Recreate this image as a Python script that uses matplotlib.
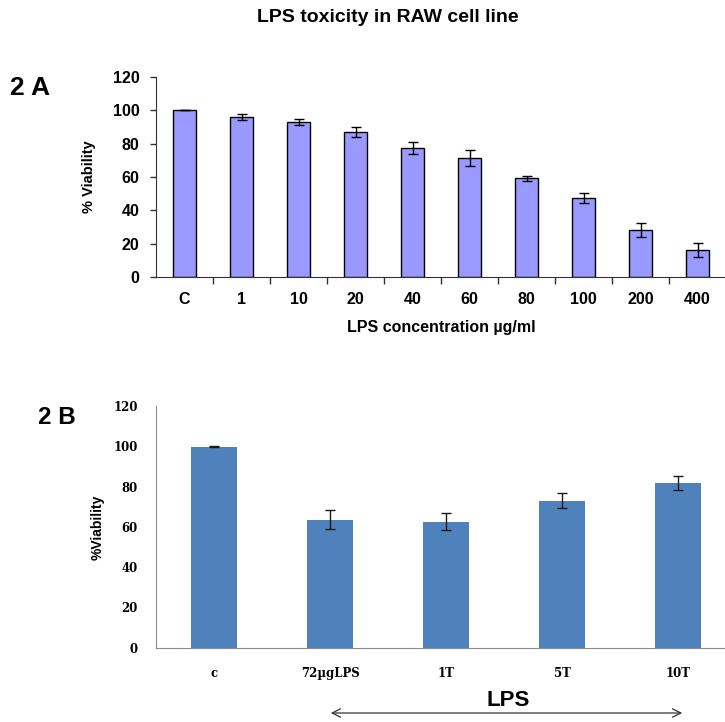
import numpy as np
import matplotlib
matplotlib.use("Agg")
import matplotlib.pyplot as plt
from matplotlib.ticker import FixedLocator

# Panel 2A data - LPS toxicity
lpsDoses   = ["C", "1", "10", "20", "40", "60", "80", "100", "200", "400"]
lpsViab    = [100, 96, 93.2, 87, 77.2, 71.2, 59.2, 47.4, 28, 16]
lpsErr     = [0, 2, 1.8, 3, 3.6, 4.8, 1.4, 2.8, 4.2, 4.2]

# Panel 2B data
treatLabels = ["c", "72\u00b5gLPS", "1T", "5T", "10T"]
treatViab   = [99.8, 63.6, 62.6, 73, 81.8]
treatErr    = [0.3, 4.8, 4.1, 3.7, 3.6]

yTicks = [0, 20, 40, 60, 80, 100, 120]

narrow = ["Liberation Sans", "DejaVu Sans"]
serif = ["DejaVu Serif"]

fig = plt.figure(figsize=(7.25, 7.22), dpi=100)

fig.text(388/725, 1 - 18/722, "LPS toxicity in RAW cell line", ha="center", va="center",
         fontsize=14, fontweight="bold", family=narrow)

##############################################################################
## 2A
axA = fig.add_axes([156/725, 1 - 277/722, 570/725, 200/722])
xA = np.arange(len(lpsDoses))
axA.bar(xA, lpsViab, width=0.42, color="#9999ff", edgecolor="black", linewidth=1.0)
axA.errorbar(xA, lpsViab, yerr=lpsErr, fmt="none", ecolor="black", elinewidth=1.0,
             capsize=3.5, capthick=1.0)
axA.set_xlim(-0.5, len(lpsDoses) - 0.5)
axA.set_ylim(0, 120)
axA.set_yticks(yTicks)
axA.set_yticklabels([str(t) for t in yTicks], fontsize=11.5, fontweight="bold", family=narrow)
axA.set_xticks(xA)
axA.set_xticklabels(lpsDoses, fontsize=11.5, fontweight="bold", family=narrow)
axA.xaxis.set_minor_locator(FixedLocator(np.arange(0.5, len(lpsDoses), 1.0)))
axA.tick_params(axis="x", which="major", length=0, pad=11)
axA.tick_params(axis="x", which="minor", length=5, width=1, color="#333333", direction="out")
axA.tick_params(axis="y", length=4, width=1, color="#333333", pad=8)
for s in ["top", "right"]:
    axA.spines[s].set_visible(False)
axA.spines["left"].set_color("#333333")
axA.spines["bottom"].set_color("#333333")
axA.set_ylabel("% Viability", fontsize=10.5, fontweight="bold", family=narrow, labelpad=12)
axA.set_xlabel("LPS concentration \u00b5g/ml", fontsize=11.5, fontweight="bold", family=narrow,
               labelpad=9)

fig.text(10/725, 1 - 88/722, "2 A", ha="left", va="center", fontsize=19, fontweight="bold",
         family=narrow)

##############################################################################
## 2B
axB = fig.add_axes([156/725, 1 - 647.7/722, 580/725, 241.7/722])
xB = np.arange(len(treatLabels))
axB.bar(xB, treatViab, width=0.4, color="#4f81bd")
axB.errorbar(xB, treatViab, yerr=treatErr, fmt="none", ecolor="#1a1a1a", elinewidth=1.0,
             capsize=3.5, capthick=1.0)
axB.set_xlim(-0.5, len(treatLabels) - 0.5)
axB.set_ylim(0, 120)
axB.set_yticks(yTicks)
axB.set_yticklabels([str(t) for t in yTicks], fontsize=8.5, fontweight="bold", family=serif)
axB.set_xticks(xB)
axB.set_xticklabels(treatLabels, fontsize=8.5, fontweight="bold", family=serif)
axB.tick_params(axis="both", length=0)
axB.tick_params(axis="y", pad=13)
axB.tick_params(axis="x", pad=14)
for s in ["top", "right"]:
    axB.spines[s].set_visible(False)
axB.spines["left"].set_color("#8c8c8c")
axB.spines["bottom"].set_color("#8c8c8c")
axB.set_ylabel("%Viability", fontsize=10, fontweight="bold", family=narrow, labelpad=6)

fig.text(38/725, 1 - 418/722, "2 B", ha="left", va="center", fontsize=17.5, fontweight="bold",
         family=narrow)

fig.text(508/725, 1 - 700/722, "LPS", ha="center", va="center", fontsize=16, fontweight="bold",
         family=narrow)
fig.patches.append(matplotlib.patches.FancyArrowPatch(
    (328/725, 1 - 713/722), (685/725, 1 - 713/722), transform=fig.transFigure,
    arrowstyle="<->,head_length=6,head_width=3", color="#333333", linewidth=0.9))

fig.savefig("out.png", dpi=100)
